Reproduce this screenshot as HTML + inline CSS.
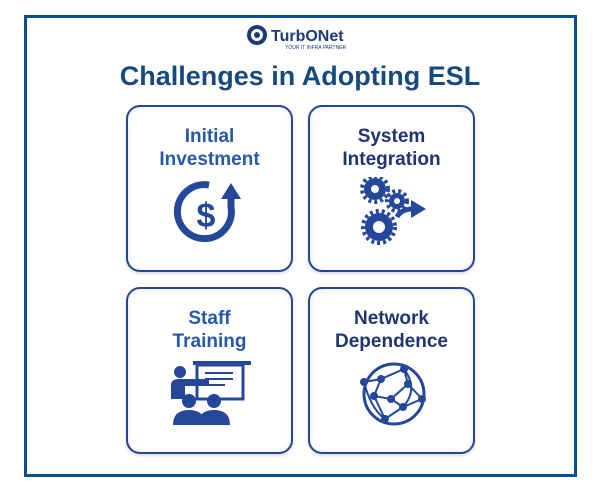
<!DOCTYPE html>
<html><head><style>
body{margin:0;width:600px;height:500px;background:#fff;position:relative;font-family:"Liberation Sans",sans-serif;overflow:hidden}
.frame{position:absolute;left:24px;top:15px;width:547px;height:456px;border:3px solid #0b4f8f}
.card{position:absolute;width:163px;height:163px;border:2px solid #24478f;border-radius:14px;background:#fff;box-shadow:inset 0 0 6px #e3e8f0,0 2px 3px #ddd;text-align:center}
.card .t{margin-top:18px;font-weight:bold;font-size:19px;line-height:23px}
.card svg{position:absolute;left:41px;top:70px}
</style></head><body>
<div class="frame"></div>
<svg style="position:absolute;left:245px;top:23px" width="120" height="30">
<circle cx="12" cy="12" r="10" fill="#1d3a78"/><circle cx="12" cy="12" r="6" fill="#fff"/><circle cx="12" cy="12" r="3" fill="#1d3a78"/>
<text x="26" y="18" font-family="Liberation Sans" font-weight="bold" font-size="16" fill="#1d3a78">TurbONet</text>
<text x="40" y="26" font-family="Liberation Sans" font-size="5" fill="#1d3a78">YOUR IT INFRA PARTNER</text>
</svg>
<div style="position:absolute;left:0;width:600px;top:61px;text-align:center;font-weight:bold;font-size:27px;color:#174a7c">Challenges in Adopting ESL</div>

<div class="card" style="left:126px;top:105px"><div class="t" style="color:#2659a6">Initial<br>Investment</div>
<svg width="85" height="70" viewBox="0 0 85 70"><path d="M40 8 A27 27 0 1 0 62 30 L62 20" fill="none" stroke="#24479a" stroke-width="7"/><path d="M52 22 L62 6 L72 22Z" fill="#24479a"/><text x="37" y="50" text-anchor="middle" font-family="Liberation Sans" font-weight="bold" font-size="34" fill="#24479a">$</text></svg></div>

<div class="card" style="left:308px;top:105px"><div class="t" style="color:#1f3570">System<br>Integration</div>
<svg width="85" height="70" viewBox="0 0 85 70"><g fill="#24479a"><circle cx="24" cy="12" r="11"/><circle cx="46" cy="24" r="8"/><circle cx="28" cy="50" r="14"/></g><g fill="none" stroke="#24479a" stroke-width="4" stroke-dasharray="3 3"><circle cx="24" cy="12" r="13"/><circle cx="46" cy="24" r="10"/><circle cx="28" cy="50" r="16"/></g><g fill="#fff"><circle cx="24" cy="12" r="4"/><circle cx="46" cy="24" r="3"/><circle cx="28" cy="50" r="6"/></g><path d="M46 40 Q50 32 62 32" stroke="#24479a" stroke-width="5" fill="none"/><path d="M60 23 L75 32 L60 41Z" fill="#24479a"/></svg></div>

<div class="card" style="left:126px;top:287px"><div class="t" style="color:#2659a6">Staff<br>Training</div>
<svg width="85" height="70" viewBox="0 0 85 70"><rect x="24" y="2" width="58" height="4" fill="#24479a"/><rect x="28" y="6" width="46" height="34" fill="none" stroke="#24479a" stroke-width="3"/><g stroke="#24479a" stroke-width="2"><line x1="36" y1="14" x2="64" y2="14"/><line x1="36" y1="20" x2="64" y2="20"/><line x1="36" y1="26" x2="56" y2="26"/></g><g fill="#24479a"><circle cx="11" cy="13" r="6"/><path d="M2 40 V26 Q2 20 10 20 L40 20 L40 27 L16 27 V40Z"/><circle cx="20" cy="42" r="7"/><circle cx="45" cy="42" r="7"/><path d="M4 66 Q4 51 20 51 Q36 51 36 66Z"/><path d="M29 66 Q29 51 45 51 Q61 51 61 66Z"/></g></svg></div>

<div class="card" style="left:308px;top:287px"><div class="t" style="color:#1f3570">Network<br>Dependence</div>
<svg width="85" height="70" viewBox="0 0 85 70"><circle cx="43" cy="35" r="30" fill="none" stroke="#24479a" stroke-width="3"/><g stroke="#24479a" stroke-width="2" fill="none"><path d="M13 23 L30 20 L53 10 L57 25 L40 40 L23 37 L30 20"/><path d="M57 25 L71 40 L52 48 L40 40 M52 48 L34 60 L23 37 M53 10 Q68 30 52 48 M13 23 Q20 50 34 60"/></g><g fill="#24479a"><circle cx="13" cy="23" r="4"/><circle cx="30" cy="20" r="4"/><circle cx="53" cy="10" r="4"/><circle cx="57" cy="25" r="4"/><circle cx="23" cy="37" r="4"/><circle cx="40" cy="40" r="4"/><circle cx="71" cy="40" r="4"/><circle cx="52" cy="48" r="4"/><circle cx="34" cy="60" r="4"/></g></svg></div>
</body></html>
